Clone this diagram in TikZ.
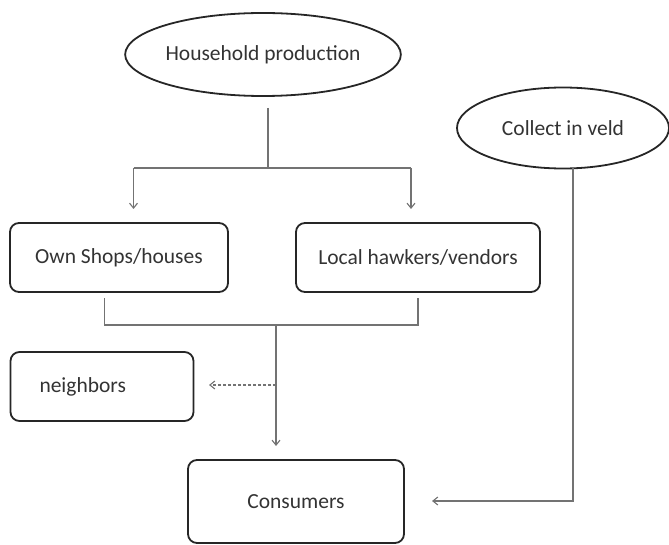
\documentclass[tikz,border=0pt]{standalone}
\usepackage{fontspec}
\setmainfont{Carlito}
\usetikzlibrary{shapes.geometric,arrows.meta}
\tikzset{
  oval/.style={ellipse, draw=black!85, line width=1.8pt, text=black!80, font=\fontsize{21.5}{24}\selectfont, inner sep=0pt},
  rbox/.style={rectangle, rounded corners=9pt, draw=black!85, line width=1.8pt, text=black!80, font=\fontsize{21.5}{24}\selectfont, inner sep=0pt},
  conn/.style={draw=black!55, line width=1.1pt},
  tip/.style={-{Straight Barb[length=5pt,width=8pt]}}
}
\begin{document}
\begin{tikzpicture}[x=1pt,y=-1pt]
\useasboundingbox (0,0) rectangle (669,545);
\node[oval, minimum width=260pt, minimum height=83pt] (hp) at (263,54.5) {Household production};
\node[oval, minimum width=212pt, minimum height=81pt] (cv) at (563,128) {Collect in veld};
\node[rbox, minimum width=218pt, minimum height=69pt] (own) at (119,257.5) {Own Shops/houses};
\node[rbox, minimum width=244pt, minimum height=69pt] (loc) at (418,257.5) {Local hawkers/vendors};
\node[rbox, minimum width=183pt, minimum height=69pt, text width=125pt, align=left] (nb) at (102,386.5) {neighbors};
\node[rbox, minimum width=216pt, minimum height=83pt] (con) at (296,501.5) {Consumers};
% junction coordinates
\coordinate (h0) at (268,108);
\coordinate (h1) at (268,168);
\coordinate (hl) at (133.5,168);
\coordinate (hr) at (411,168);
\coordinate (al) at (133.5,209);
\coordinate (ar) at (411,209);
\coordinate (o0) at (104.5,298);
\coordinate (o1) at (104.5,325);
\coordinate (l0) at (418,298);
\coordinate (l1) at (418,325);
\coordinate (m0) at (276,325);
\coordinate (m1) at (276,446);
\coordinate (d0) at (276,385);
\coordinate (d1) at (209,385);
\coordinate (c0) at (573,168);
\coordinate (c1) at (573,501);
\coordinate (c2) at (432,501);
% connectors
\draw[conn] (h0) -- (h1);
\draw[conn] (hl) -- (hr);
\draw[conn,tip] (hl) -- (al);
\draw[conn,tip] (hr) -- (ar);
\draw[conn] (o0) -- (o1) -- (l1) -- (l0);
\draw[conn,tip] (m0) -- (m1);
\draw[conn,tip,dashed,dash pattern=on 3pt off 2pt] (d0) -- (d1);
\draw[conn,tip] (c0) -- (c1) -- (c2);
\end{tikzpicture}
\end{document}
